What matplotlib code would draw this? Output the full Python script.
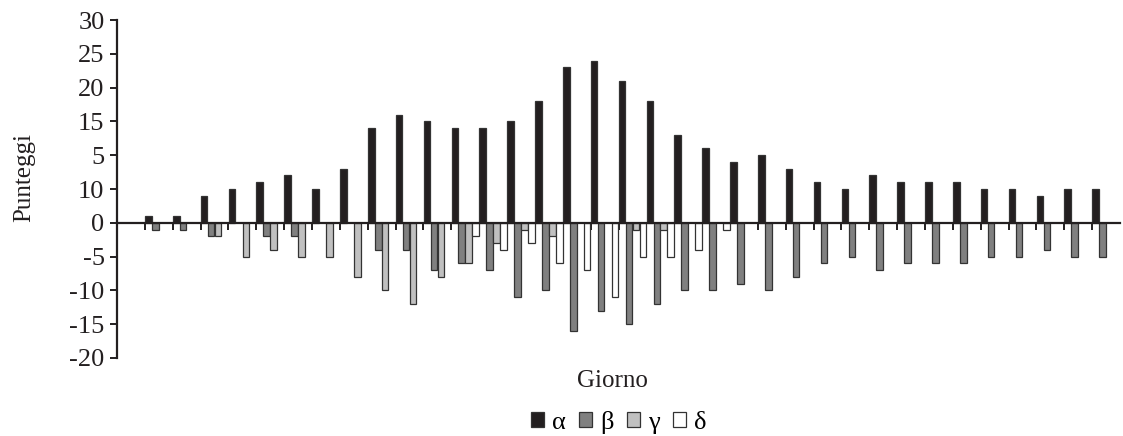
import numpy as np
import matplotlib
matplotlib.use('Agg')
import matplotlib.pyplot as plt
from matplotlib.patches import Patch

plt.rcParams['font.family'] = ['Liberation Serif', 'DejaVu Serif']

# valori (36 giorni, il primo vuoto)
giorni = np.arange(36)
alpha = [0, 1, 1, 4, 5, 6, 7, 5, 8, 14, 16, 15, 14, 14, 15, 18, 23, 24, 21, 18,
         13, 11, 9, 10, 8, 6, 5, 7, 6, 6, 6, 5, 5, 4, 5, 5]
beta = [0, -1, -1, -2, 0, -2, -2, 0, 0, -4, -4, -7, -6, -7, -11, -10, -16, -13, -15, -12,
        -10, -10, -9, -10, -8, -6, -5, -7, -6, -6, -6, -5, -5, -4, -5, -5]
gamma = [0, 0, 0, -2, -5, -4, -5, -5, -8, -10, -12, -8, -6, -3, -1, -2, 0, 0, -1, -1,
         0, 0, 0, 0, 0, 0, 0, 0, 0, 0, 0, 0, 0, 0, 0, 0]
delta = [0, 0, 0, 0, 0, 0, 0, 0, 0, 0, 0, 0, -2, -4, -3, -6, -7, -11, -5, -5,
         -4, -1, 0, 0, 0, 0, 0, 0, 0, 0, 0, 0, 0, 0, 0, 0]
serie = [alpha, beta, gamma, delta]
nomi = ['α', 'β', 'γ', 'δ']
colori = ['#231f20', '#808080', '#c0c0c0', '#ffffff']

# etichette asse y come nell'originale (5 e 10 invertiti)
yticks = [-20, -15, -10, -5, 0, 5, 10, 15, 20, 25, 30]
ylabels = ['-20', '-15', '-10', '-5', '0', '10', '5', '15', '20', '25', '30']

fig = plt.figure(figsize=(11.23, 4.36), dpi=100)
ax = fig.add_axes([117/1123, 1 - 358/436, (1120 - 117)/1123, (358 - 20)/436])

w = 0.25
for k in range(4):
    vals = np.array(serie[k])
    mask = vals != 0
    ax.bar(giorni[mask] - 0.5 + w*k + w/2, vals[mask], width=w*0.95, color=colori[k],
           edgecolor='#333333', linewidth=0.9, zorder=2)

ax.set_xlim(-0.5, 35.5)
ax.set_ylim(-20, 30)
ax.set_yticks(yticks)
ax.set_yticklabels(ylabels, fontsize=19)
ax.set_xticks(giorni[1:] - 0.5)
ax.set_xticklabels([])
ax.spines['top'].set_visible(False)
ax.spines['right'].set_visible(False)
ax.spines['bottom'].set_position(('data', 0))
ax.spines['bottom'].set_zorder(3)
ax.spines['left'].set_linewidth(1.6)
ax.spines['bottom'].set_linewidth(1.6)
ax.spines['left'].set_color('#231f20')
ax.spines['bottom'].set_color('#231f20')
ax.tick_params(axis='y', direction='out', length=5, width=1.4, pad=4, colors='#231f20')
ax.tick_params(axis='x', direction='out', length=5, width=1.4, colors='#231f20')

fig.text(24/1123, 1 - 178/436, 'Punteggi', rotation=90, ha='center', va='center',
         fontsize=18, color='#231f20')
fig.text(612/1123, 1 - 381/436, 'Giorno', ha='center', va='center',
         fontsize=18, color='#231f20')

handles = [Patch(facecolor=colori[k], edgecolor='#333333', linewidth=0.9) for k in range(4)]
fig.legend(handles, nomi, loc='center', bbox_to_anchor=(619/1123, 1 - 422/436),
           ncol=4, frameon=False, fontsize=19, handlelength=0.5, handleheight=0.5,
           handletextpad=0.3, columnspacing=0.5, borderpad=0)

fig.savefig('out.png', dpi=100)
